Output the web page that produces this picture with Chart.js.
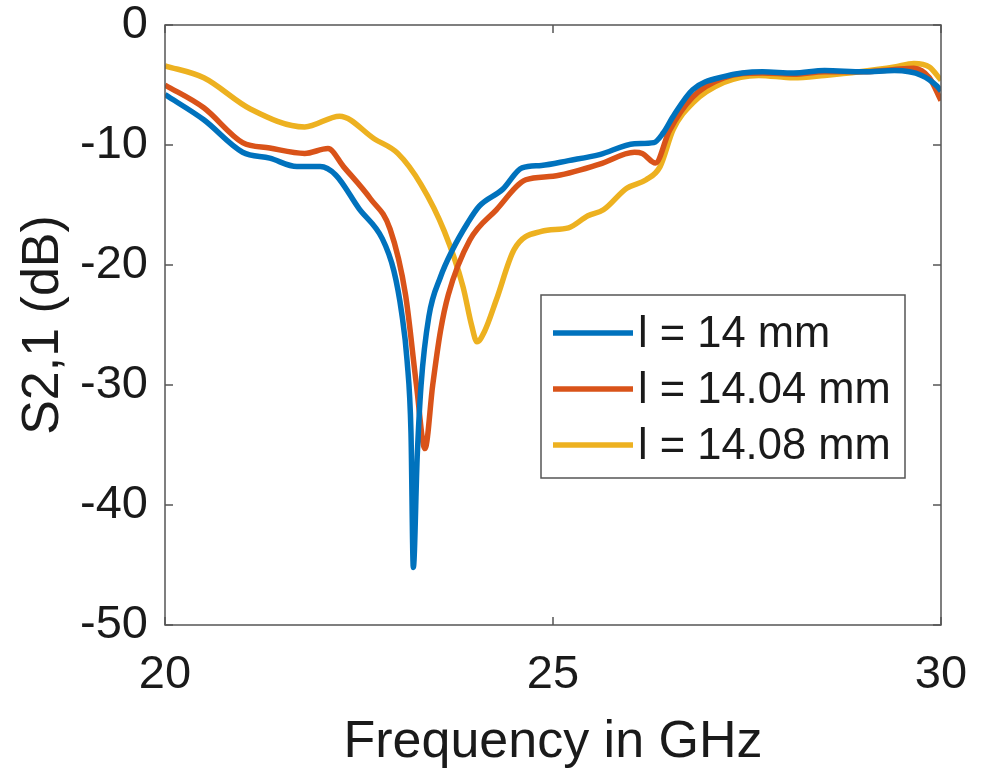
<!DOCTYPE html>
<html>
<head>
<meta charset="utf-8">
<script src="https://cdn.jsdelivr.net/npm/chart.js@4.4.1/dist/chart.umd.min.js"></script>
<style>
  body { margin: 0; background: #fff; }
  canvas { display: block; }
</style>
</head>
<body>
<canvas id="myChart" width="982" height="772"></canvas>
<script>
// S2,1 curves (frequency in GHz, value in dB)
const freq14 = [20.0, 20.5, 21.0, 21.35, 21.7, 22.0, 22.2, 22.5, 22.8, 22.95, 23.05, 23.12, 23.17, 23.2, 23.25, 23.3, 23.4, 23.55, 23.7, 23.9, 24.05, 24.35, 24.6, 24.85, 25.2, 25.6, 26.05, 26.3, 26.42, 26.55, 26.8, 27.2, 27.7, 28.1, 28.5, 29.0, 29.4, 29.75, 29.95, 30.0];
const s21_14 = [-5.8, -7.9, -10.6, -11.1, -11.8, -11.8, -12.5, -15.3, -17.8, -20.5, -24, -28, -34, -45.2, -36, -30, -24.3, -21, -18.8, -16.5, -15.1, -13.7, -11.9, -11.7, -11.3, -10.8, -9.9, -9.8, -9.0, -7.6, -5.4, -4.3, -3.9, -4.0, -3.8, -3.9, -3.8, -4.2, -5.1, -5.5];

const freq1404 = [20.0, 20.5, 21.0, 21.35, 21.8, 22.1, 22.3, 22.65, 22.9, 23.1, 23.24, 23.35, 23.45, 23.55, 23.65, 23.93, 24.27, 24.65, 25.0, 25.6, 26.05, 26.15, 26.32, 26.5, 26.8, 27.2, 27.7, 28.1, 28.5, 29.0, 29.4, 29.65, 29.85, 30.0];
const s21_1404 = [-5.0, -6.9, -9.8, -10.25, -10.7, -10.3, -11.8, -14.5, -17.0, -22.5, -30, -35.3, -30, -25.5, -22.5, -17.9, -15.4, -12.9, -12.6, -11.6, -10.6, -10.7, -11.5, -8.8, -6.0, -4.4, -4.0, -4.1, -3.9, -3.9, -3.7, -3.6, -4.4, -6.3];

const freq1408 = [20.0, 20.5, 21.1, 21.8, 22.25, 22.7, 23.0, 23.3, 23.6, 23.84, 23.95, 24.02, 24.12, 24.27, 24.5, 24.85, 25.2, 25.45, 25.65, 25.95, 26.2, 26.38, 26.55, 26.8, 27.2, 27.65, 28.1, 28.5, 28.95, 29.4, 29.65, 29.85, 30.0];
const s21_1408 = [-3.4, -4.4, -7.0, -8.5, -7.6, -9.5, -10.7, -13.3, -17.2, -21.8, -25, -26.4, -25.5, -22.9, -18.7, -17.2, -16.9, -15.9, -15.4, -13.6, -12.9, -11.8, -8.7, -6.5, -4.8, -4.2, -4.4, -4.2, -3.9, -3.5, -3.2, -3.5, -4.6];

const seriesLabels = ["l = 14 mm", "l = 14.04 mm", "l = 14.08 mm"];
const seriesColors = ["#0072BD", "#D95319", "#EDB120"];

const xTicks = [20, 25, 30];
const yTicks = [-50, -40, -30, -20, -10, 0];

const fontFamily = "'Liberation Sans', Arial, Helvetica, sans-serif";
const textColor = "#1a1a1a";

const toPoints = (xs, ys) => xs.map((x, i) => ({ x: x, y: ys[i] }));

const makeDataset = (i, xs, ys) => ({
  label: seriesLabels[i],
  data: toPoints(xs, ys),
  borderColor: seriesColors[i],
  backgroundColor: seriesColors[i],
  borderWidth: 5.5,
  pointRadius: 0,
  cubicInterpolationMode: "monotone",
  fill: false,
});

// box round the plot with inward ticks on every side, like MATLAB
const framePlugin = {
  id: "frame",
  afterDatasetsDraw(chart) {
    const { ctx, chartArea: a, scales } = chart;
    const tickLen = 8;
    ctx.save();
    ctx.strokeStyle = "#555";
    ctx.lineWidth = 1.5;
    ctx.strokeRect(a.left, a.top, a.right - a.left, a.bottom - a.top);
    ctx.beginPath();
    for (const v of xTicks) {
      const px = scales.x.getPixelForValue(v);
      ctx.moveTo(px, a.bottom);
      ctx.lineTo(px, a.bottom - tickLen);
      ctx.moveTo(px, a.top);
      ctx.lineTo(px, a.top + tickLen);
    }
    for (const v of yTicks) {
      const py = scales.y.getPixelForValue(v);
      ctx.moveTo(a.left, py);
      ctx.lineTo(a.left + tickLen, py);
      ctx.moveTo(a.right, py);
      ctx.lineTo(a.right - tickLen, py);
    }
    ctx.stroke();
    ctx.restore();
  },
};

// legend box inside the plot, right of the dips
const legendPlugin = {
  id: "boxLegend",
  afterDraw(chart) {
    const { ctx } = chart;
    const box = { left: 541, top: 295, right: 905, bottom: 478 };
    const rows = [333, 389, 445];
    ctx.save();
    ctx.fillStyle = "#fff";
    ctx.fillRect(box.left, box.top, box.right - box.left, box.bottom - box.top);
    ctx.strokeStyle = "#555";
    ctx.lineWidth = 1.5;
    ctx.strokeRect(box.left, box.top, box.right - box.left, box.bottom - box.top);
    ctx.font = `43.5px ${fontFamily}`;
    ctx.textBaseline = "middle";
    ctx.fillStyle = textColor;
    chart.data.datasets.forEach((ds, i) => {
      ctx.strokeStyle = ds.borderColor;
      ctx.lineWidth = 5.5;
      ctx.beginPath();
      ctx.moveTo(553, rows[i]);
      ctx.lineTo(633, rows[i]);
      ctx.stroke();
      ctx.fillText(ds.label, 638, rows[i] + 2);
    });
    ctx.restore();
  },
};

const ctx = document.querySelector("#myChart").getContext("2d");

new Chart(ctx, {
  type: "line",
  data: {
    datasets: [
      makeDataset(0, freq14, s21_14),
      makeDataset(1, freq1404, s21_1404),
      makeDataset(2, freq1408, s21_1408),
    ],
  },
  options: {
    responsive: false,
    animation: false,
    layout: { padding: { top: 25, right: 41, left: 0, bottom: 0 } },
    plugins: {
      legend: { display: false },
      tooltip: { enabled: false },
    },
    scales: {
      x: {
        type: "linear",
        min: 20,
        max: 30,
        afterFit(scale) {
          scale.height = 147;
          scale.paddingLeft = 0;
          scale.paddingRight = 0;
        },
        grid: { display: false },
        border: { display: false },
        ticks: {
          stepSize: 5,
          padding: 14,
          color: textColor,
          font: { family: fontFamily, size: 47 },
          maxRotation: 0,
        },
        title: {
          display: true,
          text: "Frequency in GHz",
          color: textColor,
          font: { family: fontFamily, size: 52, lineHeight: 1.1 },
          padding: { top: 0, bottom: 1 },
        },
      },
      y: {
        type: "linear",
        min: -50,
        max: 0,
        afterFit(scale) {
          scale.width = 165;
          scale.paddingTop = 0;
          scale.paddingBottom = 0;
        },
        grid: { display: false },
        border: { display: false },
        ticks: {
          stepSize: 10,
          padding: 9,
          color: textColor,
          font: { family: fontFamily, size: 47 },
        },
        title: {
          display: true,
          text: "S2,1 (dB)",
          color: textColor,
          font: { family: fontFamily, size: 52, lineHeight: 1.1 },
          padding: { top: 15, bottom: 0 },
        },
      },
    },
  },
  plugins: [framePlugin, legendPlugin],
});
</script>
</body>
</html>
